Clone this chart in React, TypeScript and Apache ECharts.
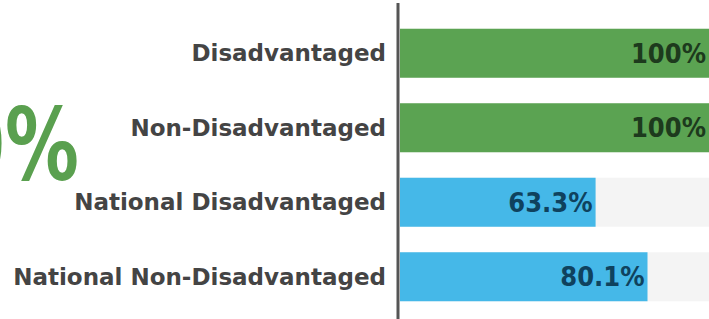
import React, { useEffect, useRef } from "react";
import * as echarts from "echarts";

const categories = [
  "Disadvantaged",
  "Non-Disadvantaged",
  "National Disadvantaged",
  "National Non-Disadvantaged",
];
const values = [100, 100, 63.3, 80.1];
const valueLabels = ["100%", "100%", "63.3%", "80.1%"];
const barColors = ["#5ba352", "#5ba352", "#45b8e8", "#45b8e8"];
const labelColors = ["#1d3a1d", "#1d3a1d", "#0f425e", "#0f425e"];
const bigText = "100%";

export default function App() {
  const ref = useRef<HTMLDivElement>(null);
  useEffect(() => {
    if (!ref.current) return;
    const chart = echarts.init(ref.current, undefined, { renderer: "svg" });
    const font = "'DejaVu Sans Condensed', 'Liberation Sans Narrow', 'Noto Sans', sans-serif";
    const labelFont = "'DejaVu Sans', 'Noto Sans', sans-serif";
    chart.setOption({
      animation: false,
      backgroundColor: "#ffffff",
      grid: { left: 400, right: -6, top: 16, bottom: 5, containLabel: false },
      xAxis: {
        type: "value",
        min: 0,
        max: 100,
        show: false,
      },
      yAxis: {
        type: "category",
        data: categories,
        inverse: true,
        axisLine: { show: false },
        axisTick: { show: false },
        axisLabel: {
          margin: 14,
          color: "#444444",
          fontSize: 23,
          fontWeight: "bold",
          fontFamily: labelFont,
        },
      },
      series: [
        {
          type: "bar",
          barWidth: 49,
          clip: false,
          showBackground: true,
          backgroundStyle: { color: "#f4f4f4" },
          data: values.map((v, i) => ({
            value: v,
            itemStyle: { color: barColors[i] },
            label: {
              show: true,
              position: "insideRight",
              distance: 3,
              formatter: valueLabels[i],
              color: labelColors[i],
              fontSize: 27,
              fontWeight: "bold",
              fontFamily: font,
            },
          })),
        },
      ],
      graphic: [
        {
          type: "line",
          shape: { x1: 398, y1: 3, x2: 398, y2: 319 },
          style: { stroke: "#555555", lineWidth: 3 },
        },
        {
          type: "text",
          x: 79,
          y: 146,
          scaleX: 0.82,
          style: {
            text: bigText,
            fill: "#5aa04f",
            fontSize: 100,
            fontWeight: "bold",
            fontFamily: font,
            align: "right",
            verticalAlign: "middle",
          },
        },
      ],
    });
    return () => chart.dispose();
  }, []);
  return <div ref={ref} style={{ width: 709, height: 319, position: "absolute", left: 0, top: 0 }} />;
}
